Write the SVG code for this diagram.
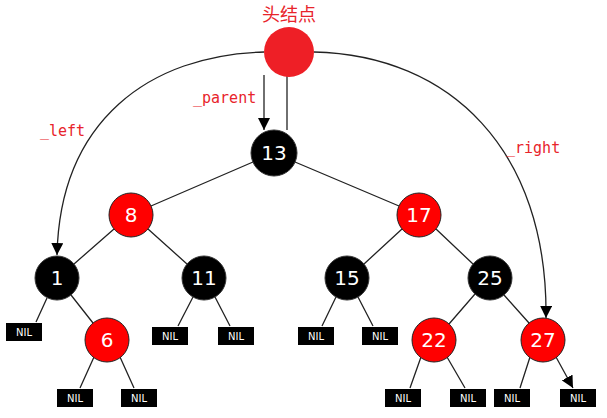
<svg xmlns="http://www.w3.org/2000/svg" width="607" height="418" viewBox="0 0 607 418">
<defs>
<marker id="ah" markerWidth="12" markerHeight="12" viewBox="0 0 12 12" refX="12" refY="6" orient="auto" markerUnits="userSpaceOnUse"><path d="M0,0L12,6L0,12z" fill="#000"/></marker>
<style>
.b{fill:#000;stroke:#333;stroke-width:1}
.r{fill:#f00;stroke:#222;stroke-width:1}
.t{fill:#fff;font-family:"DejaVu Sans",sans-serif;font-size:20px;text-anchor:middle}
.nb{fill:#000}
.nt{fill:#fff;font-family:"DejaVu Sans",sans-serif;font-size:10px;text-anchor:middle}
.e{stroke:#222;stroke-width:1.3;fill:none;marker-end:url(#ah)}
.lbl{fill:#e8242b;font-family:"DejaVu Sans Mono",monospace;font-size:15px}
</style>
</defs>
<rect width="607" height="418" fill="#fff"/>
<g id="connectors">
<path class="e" d="M253,162L151,206M295,162L399,206M114,229L74,264M148,229L187,264M402,229L364,264M436,229L473,264M47,298L36,322M71,295L93,323M193,297L178,326M215,297L230,326M336,297L322,326M358,297L373,326M475,294L449,324M504,295L529,323M94,357L80,388M120,357L134,388M421,357L410,388M447,357L465,388M530,357L520,388M556,357L573,388"/>
<path class="e" d="M264,75L264,130"/>
<path class="e" d="M287,130L287,47"/>
<path class="e" d="M264,52C150,55 60,120 57,255"/>
<path class="e" d="M314,52C450,55 548,150 546,318"/>
</g>
<g id="head"><circle cx="289" cy="52" r="25" fill="#ee1f26"/><text x="289" y="21" fill="#e8242b" font-family="Noto Sans CJK SC,sans-serif" font-size="18" text-anchor="middle">头结点</text></g>
<text class="lbl" x="193" y="103">_parent</text>
<text class="lbl" x="40" y="136">_left</text>
<text class="lbl" x="506" y="153">_right</text>
<g id="n13"><circle class="b" cx="274" cy="153" r="23"/><text class="t" x="274" y="160">13</text></g>
<g id="n8"><circle class="r" cx="131" cy="215" r="22"/><text class="t" x="131" y="222">8</text></g>
<g id="n17"><circle class="r" cx="419" cy="215" r="22"/><text class="t" x="419" y="222">17</text></g>
<g id="n1"><circle class="b" cx="57" cy="278" r="22"/><text class="t" x="57" y="285">1</text></g>
<g id="n11"><circle class="b" cx="204" cy="278" r="22"/><text class="t" x="204" y="285">11</text></g>
<g id="n15"><circle class="b" cx="347" cy="278" r="22"/><text class="t" x="347" y="285">15</text></g>
<g id="n25"><circle class="b" cx="490" cy="278" r="22"/><text class="t" x="490" y="285">25</text></g>
<g id="n6"><circle class="r" cx="107" cy="340" r="22"/><text class="t" x="107" y="347">6</text></g>
<g id="n22"><circle class="r" cx="434" cy="340" r="22"/><text class="t" x="434" y="347">22</text></g>
<g id="n27"><circle class="r" cx="543" cy="340" r="22"/><text class="t" x="543" y="347">27</text></g>
<g id="nil1"><rect class="nb" x="6" y="323" width="36" height="18"/><text class="nt" x="24" y="336">NIL</text></g>
<g id="nil2"><rect class="nb" x="152" y="327" width="36" height="18"/><text class="nt" x="170" y="340">NIL</text></g>
<g id="nil3"><rect class="nb" x="218" y="327" width="36" height="18"/><text class="nt" x="236" y="340">NIL</text></g>
<g id="nil4"><rect class="nb" x="298" y="327" width="36" height="18"/><text class="nt" x="316" y="340">NIL</text></g>
<g id="nil5"><rect class="nb" x="362" y="327" width="36" height="18"/><text class="nt" x="380" y="340">NIL</text></g>
<g id="nil6"><rect class="nb" x="57" y="389" width="36" height="18"/><text class="nt" x="75" y="402">NIL</text></g>
<g id="nil7"><rect class="nb" x="121" y="389" width="36" height="18"/><text class="nt" x="139" y="402">NIL</text></g>
<g id="nil8"><rect class="nb" x="385" y="389" width="36" height="18"/><text class="nt" x="403" y="402">NIL</text></g>
<g id="nil9"><rect class="nb" x="450" y="389" width="36" height="18"/><text class="nt" x="468" y="402">NIL</text></g>
<g id="nil10"><rect class="nb" x="494" y="389" width="36" height="18"/><text class="nt" x="512" y="402">NIL</text></g>
<g id="nil11"><rect class="nb" x="560" y="389" width="36" height="18"/><text class="nt" x="578" y="402">NIL</text></g>
</svg>
